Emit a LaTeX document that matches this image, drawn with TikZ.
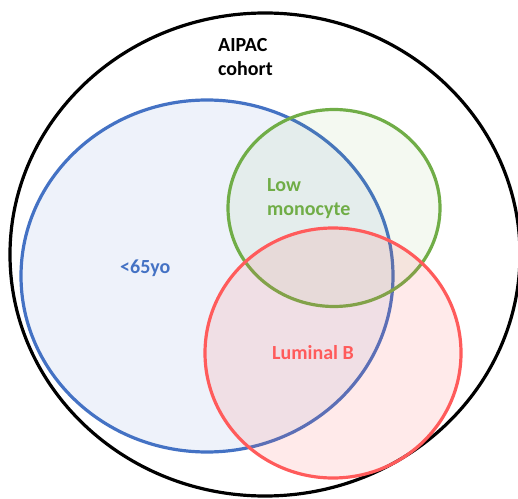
\documentclass[tikz,border=0pt]{standalone}
\usepackage{fontspec}
\setmainfont{Carlito}
\usetikzlibrary{positioning}
\definecolor{setblue}{HTML}{4472C4}
\definecolor{setgreen}{HTML}{70AD47}
\definecolor{setred}{HTML}{FF5B5B}
\tikzset{
	setline/.style={line width=3.2pt},
	setlabel/.style={font=\fontsize{20}{24.5}\selectfont\bfseries, align=left, anchor=base west, inner sep=0pt}
}

\begin{document}
\begin{tikzpicture}[x=1pt, y=1pt]
			%%%%% START %%%%%
			
			\useasboundingbox (0, 0) rectangle (518, 498);
			\clip (0, 0) rectangle (518, 498);
			
			\draw[setline, color=black] (265, 243.5) ellipse (255 and 241.5);
			
			\draw[setline, color=setblue, fill=setblue, fill opacity=0.09] (207, 222) ellipse (186 and 176);
			\draw[setline, color=setgreen, fill=setgreen, fill opacity=0.08] (334, 290) ellipse (106 and 98.5);
			\draw[setline, color=setred, fill=setred, fill opacity=0.13] (333, 145) ellipse (128 and 125);
			
			\node[setlabel, text=black] (cohort) at (218, 422) {AIPAC\\cohort};
			\node[setlabel, text=setgreen] (monocyte) at (267, 282) {Low\\monocyte};
			\node[setlabel, text=setred] (luminal) at (272, 139) {Luminal B};
			\node[setlabel, text=setblue] (young) at (120, 225) {<65yo};
			
			%%%%% END %%%%%
		\end{tikzpicture}
\end{document}
